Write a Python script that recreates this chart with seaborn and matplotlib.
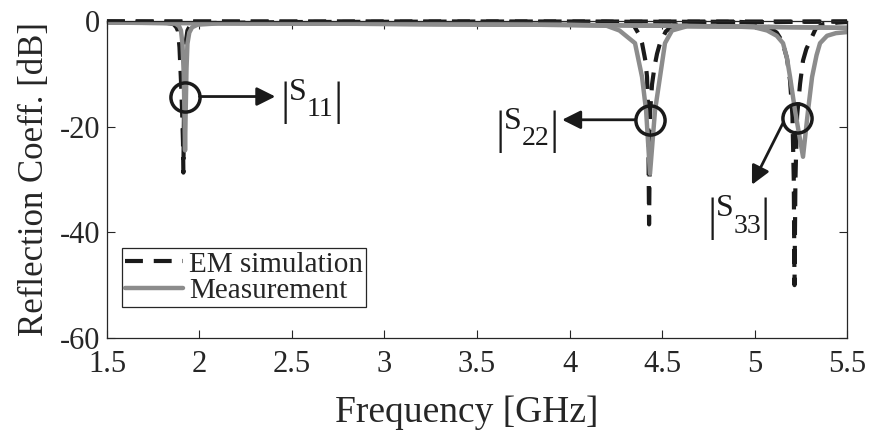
import matplotlib
matplotlib.use("Agg")
import matplotlib.pyplot as plt
import numpy as np
import pandas as pd
import seaborn as sns
from matplotlib.lines import Line2D

# EM simulation curves (freq in GHz, |S| in dB)
sim_s11_freq = [1.5, 1.8, 1.86, 1.875, 1.884, 1.892, 1.9, 1.906, 1.911, 1.913, 1.916, 1.92, 1.926, 1.935, 1.95, 2.0, 2.5, 3.5, 4.5, 5.5]
sim_s11_db = [-0.1, -0.2, -0.6, -1.2, -1.9, -5, -11.3, -17, -23, -28.7, -18, -9, -4, -1.8, -0.8, -0.4, -0.2, -0.1, -0.1, -0.1]

sim_s22_freq = [1.5, 4.2, 4.3, 4.35, 4.375, 4.392, 4.41, 4.419, 4.425, 4.43, 4.436, 4.446, 4.46, 4.473, 4.489, 4.52, 4.56, 4.65, 5.5]
sim_s22_db = [-0.1, -0.15, -0.3, -1.0, -2.5, -4.2, -7.5, -10.6, -17, -38.5, -17, -12, -8.5, -6.2, -4.2, -2.0, -0.8, -0.3, -0.1]

sim_s33_freq = [1.5, 4.9, 5.0, 5.07, 5.12, 5.149, 5.175, 5.192, 5.205, 5.212, 5.216, 5.221, 5.23, 5.246, 5.262, 5.28, 5.3, 5.33, 5.37, 5.45, 5.5]
sim_s33_db = [-0.1, -0.15, -0.3, -1.0, -2.2, -3.8, -7, -11.3, -18, -30, -50, -30, -18, -11.9, -7.5, -5.3, -3.8, -1.5, -0.6, -0.3, -0.2]

# Measured curves
meas_s11_freq = [1.5, 1.8, 1.87, 1.89, 1.9, 1.908, 1.915, 1.92, 1.922, 1.925, 1.93, 1.935, 1.945, 1.96, 1.99, 2.1, 2.5, 3.0, 3.5, 4.0, 4.5, 5.0, 5.5]
meas_s11_db = [-0.3, -0.4, -0.5, -1.0, -1.8, -4.3, -10, -20, -24.5, -18, -9, -4.3, -2.2, -1.2, -0.7, -0.45, -0.5, -0.55, -0.65, -0.75, -0.9, -1.1, -1.3]

meas_s22_freq = [1.5, 2.0, 3.0, 4.0, 4.2, 4.27, 4.354, 4.392, 4.414, 4.435, 4.462, 4.489, 4.516, 4.554, 4.635, 5.0, 5.5]
meas_s22_db = [-0.3, -0.4, -0.55, -0.75, -0.9, -1.8, -4.2, -10.6, -17, -28.9, -17, -10.6, -4.2, -1.8, -1.0, -1.1, -1.3]

meas_s33_freq = [1.5, 2.0, 3.0, 4.0, 4.5, 4.9, 5.0, 5.068, 5.12, 5.154, 5.175, 5.192, 5.219, 5.262, 5.289, 5.311, 5.335, 5.354, 5.392, 5.44, 5.5]
meas_s33_db = [-0.3, -0.4, -0.55, -0.75, -0.9, -1.05, -1.2, -1.8, -2.8, -4.2, -7, -10.6, -17, -25.7, -17, -10.6, -6.5, -4.2, -2.8, -2.3, -2.1]

xticks = [1.5, 2, 2.5, 3, 3.5, 4, 4.5, 5, 5.5]
xtick_labels = ["1.5", "2", "2.5", "3", "3.5", "4", "4.5", "5", "5.5"]
yticks = [-60, -40, -20, 0]
ytick_labels = ["-60", "-40", "-20", "0"]

# circle marker, arrow start/tip, label anchor, subscript
marks = [
    ((1.922, -14.3), (2.0, -14.3), (2.41, -14.3), (2.451, -14.9), "11"),
    ((4.435, -18.7), (4.355, -18.7), (3.96, -18.7), (3.614, -20.4), "22"),
    ((5.23, -18.3), (5.154, -19.3), (4.986, -31.0), (4.759, -37.0), "33"),
]

GRAY = "#8c8c8c"
DASH = (0, (4.3, 2.6))

sns.set_theme(style="ticks")
plt.rcParams["font.family"] = ["Liberation Serif", "DejaVu Serif"]
plt.rcParams["axes.unicode_minus"] = False


def frame(freq, db):
    return pd.DataFrame({"freq": freq, "db": db})


def s_label(ax, f, db, sub):
    kw = dict(xy=(f, db), textcoords="offset points", va="baseline", color="k")
    ax.annotate("|", xytext=(1.5, -10), fontsize=33, ha="center", **kw)
    ax.annotate("S", xytext=(4.5, 0), fontsize=23, ha="left", **kw)
    ax.annotate(sub, xytext=(17, -12), fontsize=20, ha="left", **kw)
    ax.annotate("|", xytext=(40, -10), fontsize=33, ha="center", **kw)


fig, ax = plt.subplots(figsize=(8.71, 4.30), dpi=100)
fig.subplots_adjust(left=0.1228, right=0.9725, top=0.9512, bottom=0.214)

for f, d in [(sim_s11_freq, sim_s11_db), (sim_s22_freq, sim_s22_db), (sim_s33_freq, sim_s33_db)]:
    sns.lineplot(data=frame(f, d), x="freq", y="db", ax=ax, color="k", lw=3,
                 linestyle=DASH, estimator=None, sort=False, clip_on=False,
                 dash_capstyle="butt")

for f, d in [(meas_s11_freq, meas_s11_db), (meas_s22_freq, meas_s22_db), (meas_s33_freq, meas_s33_db)]:
    sns.lineplot(data=frame(f, d), x="freq", y="db", ax=ax, color=GRAY, lw=3.2,
                 estimator=None, sort=False)

for center, start, tip, anchor, sub in marks:
    ax.plot(*center, marker="o", ms=21, mfc="none", mec="k", mew=2.5, zorder=5)
    ax.annotate("", xy=tip, xytext=start,
                arrowprops=dict(arrowstyle="-|>", color="k", lw=2, mutation_scale=28,
                                shrinkA=0, shrinkB=0), zorder=5)
    s_label(ax, *anchor, sub)

ax.set_xlim(1.5, 5.5)
ax.set_ylim(-60, 0)
ax.set_xticks(xticks, xtick_labels)
ax.set_yticks(yticks, ytick_labels)
ax.tick_params(direction="in", length=6, width=0.8, top=True, right=True,
               labelsize=22, pad=5, colors="#262626", labelcolor="#262626")
ax.tick_params(axis="x", pad=8.5)
for sp in ax.spines.values():
    sp.set_visible(True)
    sp.set_color("#262626")
    sp.set_linewidth(0.9)
ax.set_xlabel("Frequency [GHz]", fontsize=27, color="#262626")
ax.xaxis.set_label_coords(0.486, -0.18)
ax.set_ylabel("Reflection Coeff. [dB]", fontsize=25, color="#262626", labelpad=6)

handles = [Line2D([], [], color="k", lw=3, linestyle=DASH, dash_capstyle="butt"),
           Line2D([], [], color=GRAY, lw=3.2)]
ax.legend(handles, ["EM simulation", "Measurement"], loc="lower left",
          bbox_to_anchor=(0.02, 0.098), borderaxespad=0, fontsize=21,
          frameon=True, fancybox=False, edgecolor="#262626", framealpha=1,
          handlelength=2.0, handletextpad=0.2, labelspacing=0.0, borderpad=0.1)
ax.get_legend().get_frame().set_linewidth(0.9)

fig.savefig("out.png", dpi=100)
